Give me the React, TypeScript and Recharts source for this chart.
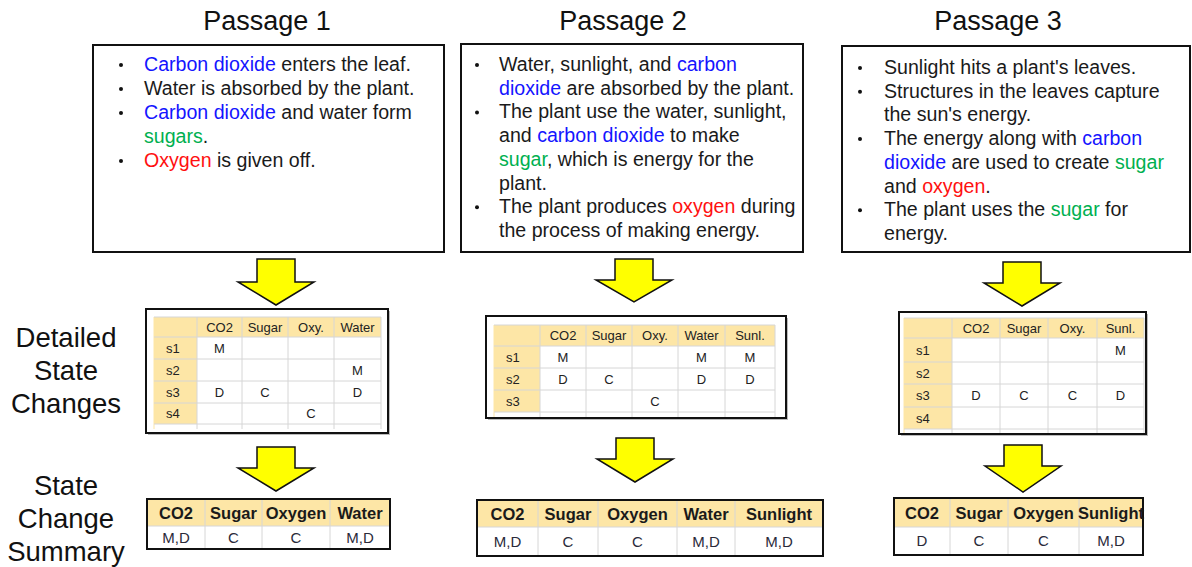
import { ComposedChart, Customized } from 'recharts';

document.body.style.margin = '0';

const FONT = '"Liberation Sans", Arial, Helvetica, sans-serif';
const COLORS: Record<string, string> = { b: '#1414ff', g: '#00b050', r: '#ff1010', k: '#1a1a1a' };
const HEAD_FILL = '#fde6a6';
const GRID = '#d6d6d6';

const passageTitles = ['Passage 1', 'Passage 2', 'Passage 3'];

// "* " starts a bullet, {b:..} blue, {g:..} green, {r:..} red
const passage1Lines = [
  '* {b:Carbon dioxide} enters the leaf.',
  '* Water is absorbed by the plant.',
  '* {b:Carbon dioxide} and water form',
  '{g:sugars}.',
  '* {r:Oxygen} is given off.',
];
const passage2Lines = [
  '* Water, sunlight, and {b:carbon}',
  '{b:dioxide} are absorbed by the plant.',
  '* The plant use the water, sunlight,',
  'and {b:carbon dioxide} to make',
  '{g:sugar}, which is energy for the',
  'plant.',
  '* The plant produces {r:oxygen} during',
  'the process of making energy.',
];
const passage3Lines = [
  "* Sunlight hits a plant's leaves.",
  '* Structures in the leaves capture',
  "the sun's energy.",
  '* The energy along with {b:carbon}',
  '{b:dioxide} are used to create {g:sugar}',
  'and {r:oxygen}.',
  '* The plant uses the {g:sugar} for',
  'energy.',
];

const sideLabels1 = ['Detailed', 'State', 'Changes'];
const sideLabels2 = ['State', 'Change', 'Summary'];

const detail1Cols = ['CO2', 'Sugar', 'Oxy.', 'Water'];
const detail1Steps = ['s1', 's2', 's3', 's4'];
const detail1Cells = [
  ['M', '', '', ''],
  ['', '', '', 'M'],
  ['D', 'C', '', 'D'],
  ['', '', 'C', ''],
];

const detail2Cols = ['CO2', 'Sugar', 'Oxy.', 'Water', 'Sunl.'];
const detail2Steps = ['s1', 's2', 's3'];
const detail2Cells = [
  ['M', '', '', 'M', 'M'],
  ['D', 'C', '', 'D', 'D'],
  ['', '', 'C', '', ''],
];

const detail3Cols = ['CO2', 'Sugar', 'Oxy.', 'Sunl.'];
const detail3Steps = ['s1', 's2', 's3', 's4'];
const detail3Cells = [
  ['', '', '', 'M'],
  ['', '', '', ''],
  ['D', 'C', 'C', 'D'],
  ['', '', '', ''],
];

const summary1Cols = ['CO2', 'Sugar', 'Oxygen', 'Water'];
const summary1Vals = ['M,D', 'C', 'C', 'M,D'];
const summary2Cols = ['CO2', 'Sugar', 'Oxygen', 'Water', 'Sunlight'];
const summary2Vals = ['M,D', 'C', 'C', 'M,D', 'M,D'];
const summary3Cols = ['CO2', 'Sugar', 'Oxygen', 'Sunlight'];
const summary3Vals = ['D', 'C', 'C', 'M,D'];

function parseLine(line: string) {
  const bullet = line.startsWith('* ');
  const body = bullet ? line.slice(2) : line;
  const parts = body.split(/(\{[bgr]:[^}]*\})/).filter((p) => p.length > 0);
  const segs = parts.map((p) => {
    const m = p.match(/^\{([bgr]):([^}]*)\}$/);
    return m ? { text: m[2], color: COLORS[m[1]] } : { text: p, color: COLORS.k };
  });
  return { bullet, segs };
}

function PassageBox({ box, lines, bulletX, textX, y0, step }: any) {
  return (
    <g>
      <rect x={box[0]} y={box[1]} width={box[2] - box[0]} height={box[3] - box[1]} fill="#fff" stroke="#111" strokeWidth={2} />
      {lines.map((l: string, i: number) => {
        const { bullet, segs } = parseLine(l);
        const y = y0 + i * step;
        return (
          <g key={i}>
            {bullet && <circle cx={bulletX} cy={y - 6} r={2} fill="#111" />}
            <text x={textX} y={y} fontSize={19.6} fontFamily={FONT} style={{ whiteSpace: 'pre' }}>
              {segs.map((s, j) => (
                <tspan key={j} fill={s.color}>{s.text}</tspan>
              ))}
            </text>
          </g>
        );
      })}
    </g>
  );
}

function DetailTable({ frame, cols, rows, colNames, steps, cells }: any) {
  const left = cols[0];
  const right = cols[cols.length - 1];
  const top = rows[0];
  const bottom = rows[rows.length - 1];
  return (
    <g fontFamily={FONT}>
      <rect x={frame[0] + 2} y={frame[1] + 2} width={frame[2] - frame[0]} height={frame[3] - frame[1]} fill="#bbb" />
      <rect x={frame[0]} y={frame[1]} width={frame[2] - frame[0]} height={frame[3] - frame[1]} fill="#fff" stroke="#111" strokeWidth={2} />
      <rect x={left} y={top} width={right - left} height={rows[1] - top} fill={HEAD_FILL} />
      <rect x={left} y={top} width={cols[1] - left} height={bottom - top} fill={HEAD_FILL} />
      {cols.map((c: number, i: number) => (
        <line key={'v' + i} x1={c} x2={c} y1={top} y2={Math.min(bottom + 5, frame[3] - 1)} stroke={i === 0 ? HEAD_FILL : GRID} strokeWidth={1} />
      ))}
      {rows.map((r: number, i: number) => (
        <line key={'h' + i} x1={left} x2={right} y1={r} y2={r} stroke={GRID} strokeWidth={1} />
      ))}
      {colNames.map((n: string, i: number) => (
        <text key={'c' + i} x={(cols[i + 1] + cols[i + 2]) / 2} y={(rows[0] + rows[1]) / 2 + 4.5} fontSize={13} textAnchor="middle" fill="#222">{n}</text>
      ))}
      {steps.map((s: string, r: number) => (
        <g key={'r' + r}>
          <text x={left + 12} y={(rows[r + 1] + rows[r + 2]) / 2 + 4.5} fontSize={13} fill="#222">{s}</text>
          {cells[r].map((v: string, c: number) => (
            <text key={c} x={(cols[c + 1] + cols[c + 2]) / 2} y={(rows[r + 1] + rows[r + 2]) / 2 + 4.5} fontSize={13} textAnchor="middle" fill="#222">{v}</text>
          ))}
        </g>
      ))}
    </g>
  );
}

function SummaryTable({ cols, top, mid, bottom, colNames, vals }: any) {
  const left = cols[0];
  const right = cols[cols.length - 1];
  return (
    <g fontFamily={FONT}>
      <rect x={left} y={top} width={right - left} height={mid - top} fill={HEAD_FILL} />
      {cols.slice(1, -1).map((c: number, i: number) => (
        <line key={i} x1={c} x2={c} y1={top} y2={bottom} stroke={GRID} strokeWidth={1} />
      ))}
      <line x1={left} x2={right} y1={mid} y2={mid} stroke={GRID} strokeWidth={1} />
      <rect x={left} y={top} width={right - left} height={bottom - top} fill="none" stroke="#111" strokeWidth={2} />
      {colNames.map((n: string, i: number) => (
        <text key={'h' + i} x={(cols[i] + cols[i + 1]) / 2} y={(top + mid) / 2 + 6} fontSize={16.5} fontWeight="bold" textAnchor="middle" fill="#1a1a1a">{n}</text>
      ))}
      {vals.map((v: string, i: number) => (
        <text key={'v' + i} x={(cols[i] + cols[i + 1]) / 2} y={(mid + bottom) / 2 + 5} fontSize={15} textAnchor="middle" fill="#2a2a3a">{v}</text>
      ))}
    </g>
  );
}

function Arrow({ cx, top, sh, tip }: any) {
  const pts = [
    [cx - 19, top], [cx + 19, top], [cx + 19, sh], [cx + 38, sh],
    [cx, tip], [cx - 38, sh], [cx - 19, sh],
  ].map((p) => p.join(',')).join(' ');
  return <polygon points={pts} fill="#ffff00" stroke="#111" strokeWidth={1.5} strokeLinejoin="miter" />;
}

function Diagram() {
  const titleX = [267, 623, 998];
  return (
    <g>
      <rect x={0} y={0} width={1192} height={567} fill="#fff" />
      {passageTitles.map((t, i) => (
        <text key={t} x={titleX[i]} y={30} fontSize={27} textAnchor="middle" fontFamily={FONT} fill="#111">{t}</text>
      ))}
      {sideLabels1.map((t, i) => (
        <text key={'a' + i} x={66} y={347 + i * 33} fontSize={27.5} textAnchor="middle" fontFamily={FONT} fill="#111">{t}</text>
      ))}
      {sideLabels2.map((t, i) => (
        <text key={'b' + i} x={66} y={495 + i * 33} fontSize={27.5} textAnchor="middle" fontFamily={FONT} fill="#111">{t}</text>
      ))}

      <PassageBox box={[93, 45, 444, 252]} lines={passage1Lines} bulletX={121} textX={144} y0={71} step={24} />
      <PassageBox box={[461, 44, 803, 252]} lines={passage2Lines} bulletX={477} textX={499} y0={71} step={23.7} />
      <PassageBox box={[842, 46, 1190, 252]} lines={passage3Lines} bulletX={860} textX={884} y0={74} step={23.7} />

      <Arrow cx={276} top={259} sh={282} tip={305} />
      <Arrow cx={634} top={259} sh={280} tip={302} />
      <Arrow cx={1022} top={262} sh={283} tip={306} />

      <DetailTable frame={[146, 309, 388, 433]} cols={[154, 197, 242, 288, 334, 381]} rows={[317, 337, 359, 381, 403, 424]}
        colNames={detail1Cols} steps={detail1Steps} cells={detail1Cells} />
      <DetailTable frame={[486, 316, 786, 418]} cols={[494, 540, 586, 632, 678, 725, 775]} rows={[325, 346, 368, 390, 412]}
        colNames={detail2Cols} steps={detail2Steps} cells={detail2Cells} />
      <DetailTable frame={[899, 312, 1146, 434]} cols={[904, 952, 1000, 1048, 1097, 1144]} rows={[318, 338, 362, 384, 407, 429]}
        colNames={detail3Cols} steps={detail3Steps} cells={detail3Cells} />

      <Arrow cx={276} top={447} sh={468} tip={491} />
      <Arrow cx={635} top={438} sh={459} tip={482} />
      <Arrow cx={1023} top={445} sh={466} tip={492} />

      <SummaryTable cols={[147, 205, 262, 330, 390]} top={499} mid={526} bottom={549} colNames={summary1Cols} vals={summary1Vals} />
      <SummaryTable cols={[477, 538, 598, 677, 735, 823]} top={500} mid={527} bottom={556} colNames={summary2Cols} vals={summary2Vals} />
      <SummaryTable cols={[894, 950, 1008, 1079, 1143]} top={498} mid={527} bottom={555} colNames={summary3Cols} vals={summary3Vals} />
    </g>
  );
}

export default function App() {
  return (
    <ComposedChart width={1192} height={567} margin={{ top: 0, right: 0, bottom: 0, left: 0 }}>
      <Customized component={Diagram} />
    </ComposedChart>
  );
}
